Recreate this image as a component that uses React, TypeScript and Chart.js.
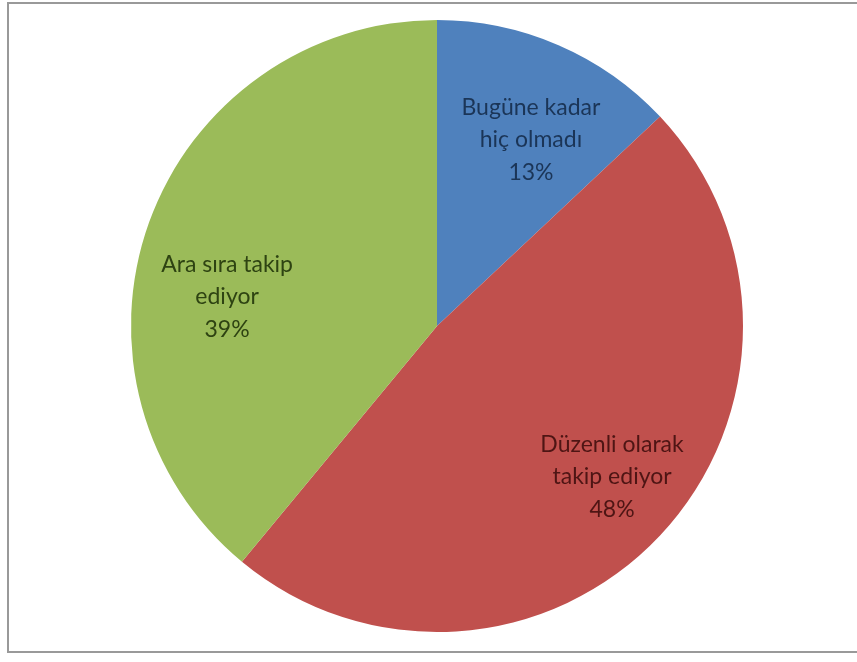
import React, { useEffect, useRef } from "react";
import { Chart, registerables } from "chart.js";

Chart.register(...registerables);

const categories = ["Bugüne kadar hiç olmadı", "Düzenli olarak takip ediyor", "Ara sıra takip ediyor"];
const labelLines = [["Bugüne kadar", "hiç olmadı"], ["Düzenli olarak", "takip ediyor"], ["Ara sıra takip", "ediyor"]];
const values = [13, 48, 39];
const colors = ["#4F81BD", "#C0504D", "#9BBB59"];
const textColors = ["#1B3557", "#4E1514", "#2E4312"];
// label block centre, in units of radius, relative to pie centre
const labelOffsets = [[0.307, -0.608], [0.572, 0.493], [-0.686, -0.095]];

const labelPlugin = {
  id: "pieLabels",
  afterDatasetsDraw(chart: any) {
    const ctx = chart.ctx;
    const meta = chart.getDatasetMeta(0);
    const total = values.reduce((a, b) => a + b, 0);
    meta.data.forEach((arc: any, i: number) => {
      const r = arc.outerRadius;
      const cx = arc.x + labelOffsets[i][0] * r;
      const cy = arc.y + labelOffsets[i][1] * r;
      const lines = [...labelLines[i], Math.round((values[i] / total) * 100) + "%"];
      ctx.save();
      ctx.font = "23px Lato";
      ctx.fillStyle = textColors[i];
      ctx.textAlign = "center";
      ctx.textBaseline = "middle";
      const lh = 32.5;
      lines.forEach((t, k) => {
        ctx.fillText(t, cx, cy + (k - (lines.length - 1) / 2) * lh);
      });
      ctx.restore();
    });
  },
};

export default function App() {
  const ref = useRef<HTMLCanvasElement>(null);
  useEffect(() => {
    const chart = new Chart(ref.current!, {
      type: "pie",
      data: {
        labels: categories,
        datasets: [{ data: values, backgroundColor: colors, borderWidth: 0 }],
      },
      options: {
        responsive: false,
        animation: false,
        layout: { padding: { left: 131, right: 114, top: 20, bottom: 30 } },
        plugins: { legend: { display: false }, tooltip: { enabled: false } },
      },
      plugins: [labelPlugin],
    });
    return () => chart.destroy();
  }, []);
  return (
    <div style={{ position: "absolute", left: 0, top: 0, width: 857, height: 662, background: "#fff", overflow: "hidden" }}>
      <div style={{ position: "absolute", left: 7, top: 2, width: 860, height: 651, border: "2px solid #999999", boxSizing: "border-box" }} />
      <canvas ref={ref} width={857} height={662} style={{ position: "absolute", left: 0, top: 0 }} />
    </div>
  );
}
